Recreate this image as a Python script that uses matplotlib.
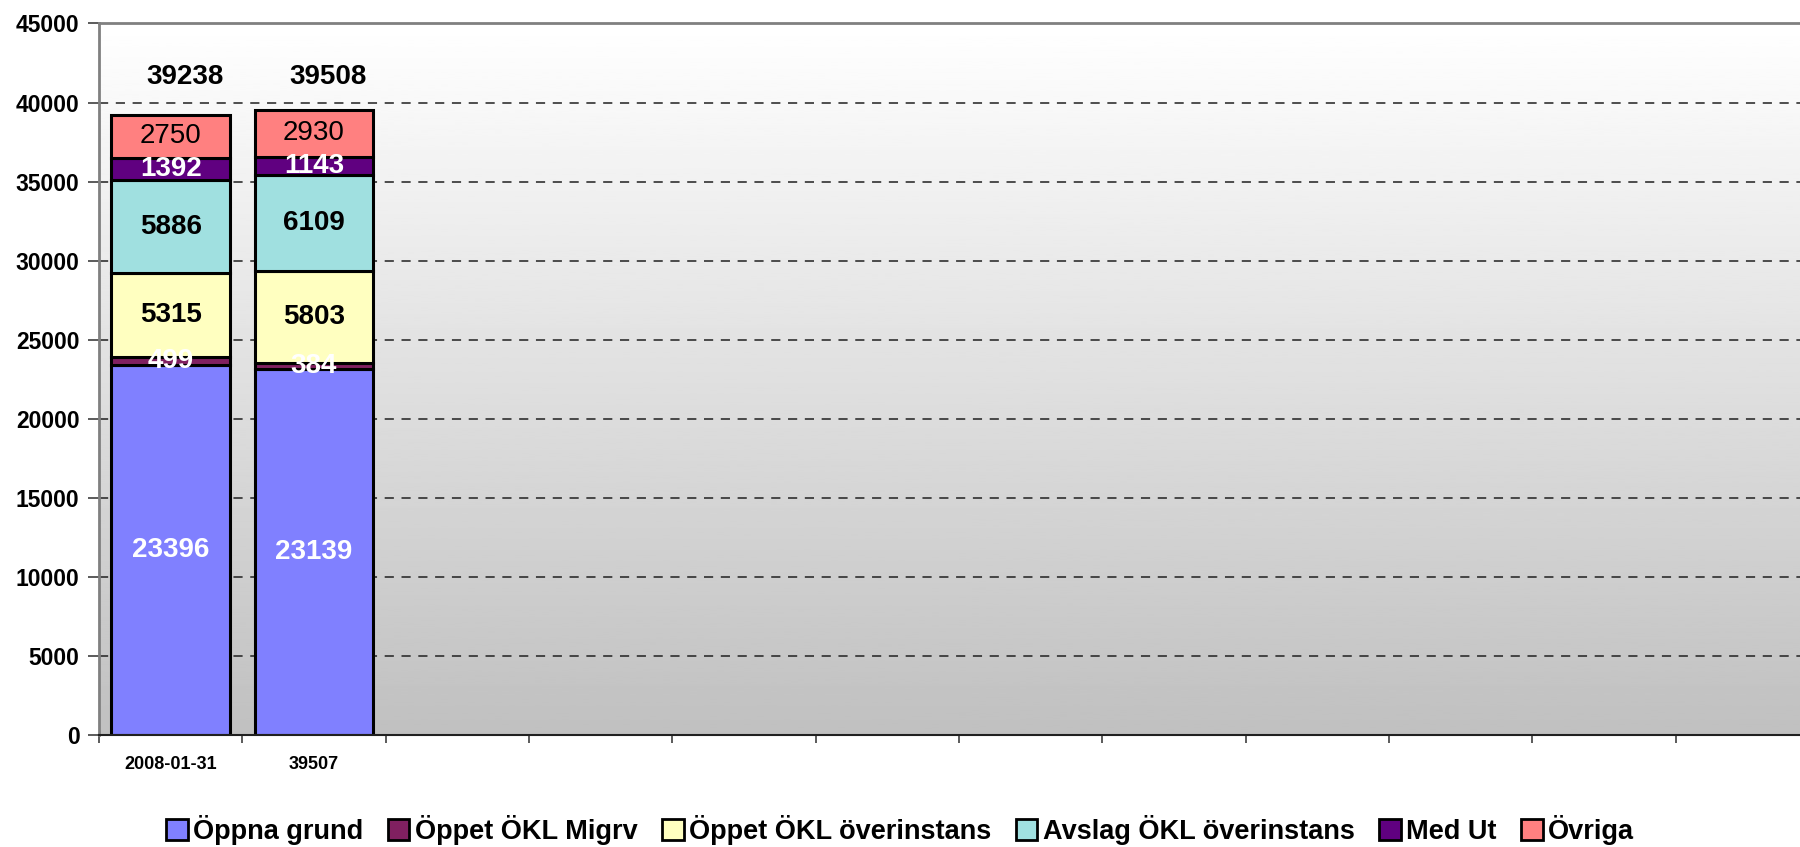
import numpy as np
import matplotlib
matplotlib.use("Agg")
import matplotlib.pyplot as plt
from matplotlib.patches import Patch

plt.rcParams['font.family'] = ['Liberation Sans', 'DejaVu Sans']

# Category slots on the x axis (twelve months, only two filled so far)
dates = ["2008-01-31", "39507", "", "", "", "", "", "", "", "", "", ""]

# Stacked series, one value per filled month
series_names = ["Öppna grund", "Öppet ÖKL Migrv", "Öppet ÖKL överinstans",
                "Avslag ÖKL överinstans", "Med Ut", "Övriga"]
oppna_grund = [23396, 23139]
oppet_migrv = [499, 384]
oppet_overinstans = [5315, 5803]
avslag_overinstans = [5886, 6109]
med_ut = [1392, 1143]
ovriga = [2750, 2930]
totals = [39238, 39508]

series_values = [oppna_grund, oppet_migrv, oppet_overinstans,
                 avslag_overinstans, med_ut, ovriga]
colors = ["#8080FF", "#802060", "#FFFFC0", "#A0E0E0", "#600080", "#FF8080"]
label_colors = ["white", "white", "black", "black", "white", "black"]
label_weights = ["bold", "bold", "bold", "bold", "bold", "normal"]

W, H = 1800, 847
fig = plt.figure(figsize=(W / 100, H / 100), dpi=100)
left, right, bottom, top = 99, 1819, 735, 23.5
ax = fig.add_axes([left / W, 1 - bottom / H, (right - left) / W, (bottom - top) / H])

n_slots = len(dates)
ax.set_xlim(-0.5, n_slots - 0.5)
ax.set_ylim(0, 45000)

# Vertical gray gradient background
grad = np.linspace(0.753, 1.0, 256).reshape(-1, 1)
ax.imshow(grad, extent=(0, 1, 0, 1), transform=ax.transAxes, cmap="gray",
          vmin=0, vmax=1, aspect="auto", origin="lower", zorder=0)

# Horizontal dashed grid
for yv in range(5000, 45000, 5000):
    ax.axhline(yv, color="#202020", lw=1.1, ls=(0, (6, 5)), zorder=1)

x = np.arange(len(oppna_grund))
bar_w = 0.827
base = np.zeros(len(x))
for name, vals, col, lc, lw_ in zip(series_names, series_values, colors,
                                    label_colors, label_weights):
    vals = np.array(vals, dtype=float)
    ax.bar(x, vals, bottom=base, width=bar_w, color=col, edgecolor="black",
           linewidth=2.2, zorder=3, label=name)
    for xi, b, v in zip(x, base, vals):
        ax.text(xi, b + v / 2, f"{int(v)}", ha="center", va="center",
                color=lc, fontsize=20, fontweight=lw_, zorder=5)
    base += vals

for xi, t in zip(x, totals):
    ax.text(xi + 0.1, 41600, f"{t}", ha="center", va="center",
            fontsize=20, fontweight="bold", zorder=5)

# Axes styling
ax.set_yticks(np.arange(0, 45001, 5000))
ax.tick_params(axis="y", length=8, width=1.2, color="#404040", pad=6,
               labelsize=16.5)
for lab in ax.get_yticklabels():
    lab.set_fontweight("bold")

ax.set_xticks(np.arange(n_slots))
ax.set_xticklabels(dates, fontsize=13, fontweight="bold")
ax.tick_params(axis="x", which="major", length=0, pad=15)
ax.set_xticks(np.arange(n_slots + 1) - 0.5, minor=True)
ax.tick_params(axis="x", which="minor", length=6, width=1.2, color="#404040")

ax.spines["top"].set_color("#808080")
ax.spines["top"].set_linewidth(2)
ax.spines["left"].set_color("#808080")
ax.spines["left"].set_linewidth(2)
ax.spines["bottom"].set_color("#202020")
ax.spines["bottom"].set_linewidth(1.5)
ax.spines["right"].set_visible(False)
for s in ax.spines.values():
    s.set_zorder(6)

handles = [Patch(facecolor=c, edgecolor="black", linewidth=2) for c in colors]
fig.legend(handles, series_names, loc="center", bbox_to_anchor=(0.5, 1 - 830 / H),
           ncol=6, frameon=False, prop={"weight": "bold", "size": 19.5},
           handlelength=0.8, handleheight=0.8, handletextpad=0.2,
           columnspacing=0.9)

fig.savefig("out.png", dpi=100)
